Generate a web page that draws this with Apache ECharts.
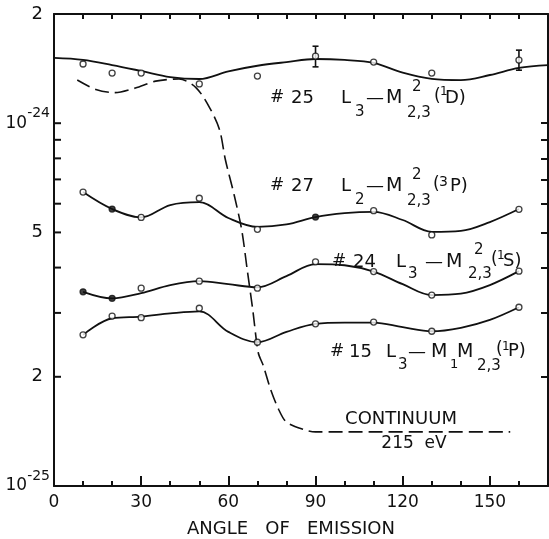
<!DOCTYPE html>
<html><head><meta charset="utf-8">
<script src="https://cdn.jsdelivr.net/npm/echarts@6/dist/echarts.min.js"></script>
<style>html,body{margin:0;padding:0;background:#fff}#c{width:549px;height:539px}</style>
</head><body><div id="c"></div>
<script>
const FONT = 'DejaVu Sans';
const INK = '#111';
const UNIT = 1e-25;

// measured points (values in units of 1e-25)
const pointAngles = [10, 20, 30, 50, 70, 90, 110, 130, 160];
const s25Points = [14.56, 13.75, 13.75, 12.83, 13.49, 15.3, 14.74, 13.75, 14.93];
const s27Points = [6.46, 5.80, 5.50, 6.21, 5.10, 5.51, 5.74, 4.92, 5.79];
const s24Points = [3.43, 3.29, 3.51, 3.67, 3.51, 4.15, 3.90, 3.36, 3.91];
const s15Points = [2.61, 2.94, 2.91, 3.09, 2.49, 2.80, 2.83, 2.67, 3.11];
const s27Filled = [20, 90];
const s24Filled = [10, 20];

// error bars on #25
const errAngles = [90, 160];
const errLow = [14.3, 14.0];
const errHigh = [16.3, 15.9];

// fitted curves
const s25CurveAngles = [0, 10, 20, 30, 40, 50, 60, 70, 80, 90, 100, 110, 120, 130, 140, 150, 160, 170];
const s25Curve = [15.13, 14.94, 14.46, 13.93, 13.40, 13.24, 13.9, 14.4, 14.74, 15.03, 14.94, 14.66, 13.78, 13.25, 13.15, 13.58, 14.2, 14.46];
const curveAngles = [10, 20, 30, 40, 50, 60, 70, 80, 90, 100, 110, 120, 130, 140, 150, 160];
const s27Curve = [6.46, 5.80, 5.50, 5.95, 6.06, 5.48, 5.18, 5.26, 5.51, 5.65, 5.70, 5.41, 5.02, 5.05, 5.34, 5.80];
const s24Curve = [3.43, 3.29, 3.40, 3.58, 3.67, 3.60, 3.53, 3.79, 4.09, 4.06, 3.90, 3.60, 3.36, 3.39, 3.58, 3.91];
const s15Curve = [2.61, 2.90, 2.93, 2.99, 3.03, 2.66, 2.49, 2.66, 2.80, 2.82, 2.82, 2.74, 2.67, 2.73, 2.87, 3.11];

// continuum (dashed)
const contAngles = [8, 14.4, 21, 28, 35, 43, 49, 54, 57, 59, 62, 64.6, 66.5, 68.4, 70.3, 72, 74.6, 77.4, 80, 86, 90, 157];
const contValues = [13.15, 12.39, 12.14, 12.5, 13.06, 13.24, 12.5, 10.87, 9.58, 7.92, 6.34, 5.08, 3.94, 3.06, 2.33, 2.15, 1.84, 1.62, 1.50, 1.43, 1.41, 1.41];

// axis ticks (y in units of 1e-25)
const xTickLabels = [0, 30, 60, 90, 120, 150];
const yTickValues = [1, 2, 3, 4, 5, 6, 7, 8, 9, 10];
const yLabelValues = [1, 2, 5, 10, 20];
const yMin = 1, yMax = 20;

const pair = (xs, ys) => xs.map((a, i) => [a, ys[i] * UNIT]);
const lg = m => -25 + Math.log10(m);   // exponent of m * 1e-25
const LOGY = 3; // index of the log axis carrying the data

function pointsData(ys, filled) {
  return pointAngles.map((a, i) => ({
    value: [a, ys[i] * UNIT],
    itemStyle: { color: filled.indexOf(a) >= 0 ? INK : '#fff', borderColor: INK, borderWidth: 1.3 }
  }));
}
function curve(name, xs, ys) {
  return { name, type: 'line', yAxisIndex: LOGY, smooth: 0.35, showSymbol: false, silent: true,
    data: pair(xs, ys), lineStyle: { color: INK, width: 1.8 }, z: 2 };
}
function pts(name, ys, filled) {
  return { name, type: 'scatter', yAxisIndex: LOGY, symbol: 'circle', symbolSize: 6, data: pointsData(ys, filled || []), z: 4 };
}

function yLabel(v) {
  const m = Math.round(Math.pow(10, v + 25) * 10) / 10;
  if (m === 1) return '{b|10}{s|-25}';
  if (m === 10) return '{b|10}{s|-24}';
  if (m === 2 || m === 5) return '{n|' + m + '}';
  if (m === 20) return '{n|2}';
  return '';
}

function T(x, y, text, size) {
  return { type: 'text', x, y, silent: true,
    style: { text, fill: INK, font: (size || 18) + 'px "' + FONT + '"', textVerticalAlign: 'middle', textAlign: 'left' } };
}

const graphics = [
  // #25
  T(270, 98, '#', 17), T(291, 98, '25', 18), T(341, 98, 'L', 18), T(355, 112, '3', 15),
  T(366, 98, '—', 18), T(386, 98, 'M', 19), T(412, 87, '2', 15), T(407, 113, '2,3', 15),
  T(434, 97, '(', 17), T(440, 92, '1', 12), T(445, 98, 'D)', 18),
  // #27
  T(270, 186, '#', 17), T(291, 186, '27', 18), T(341, 186, 'L', 18), T(355, 200, '2', 15),
  T(366, 186, '—', 18), T(386, 186, 'M', 19), T(412, 175, '2', 15), T(407, 201, '2,3', 15),
  T(433, 185, '(', 17), T(439, 182, '3', 14), T(450, 186, 'P)', 18),
  // #24
  T(332, 262, '#', 17), T(353, 262, '24', 18), T(396, 262, 'L', 18), T(408, 274, '3', 15),
  T(425, 262, '—', 18), T(446, 262, 'M', 19), T(474, 250, '2', 15), T(468, 274, '2,3', 15),
  T(491, 260, '(', 17), T(497, 256, '1', 12), T(503, 261, 'S)', 18),
  // #15
  T(330, 352, '#', 17), T(349, 352, '15', 18), T(386, 352, 'L', 18), T(398, 365, '3', 15),
  T(408, 352, '—', 18), T(431, 352, 'M', 19), T(450, 365, '1', 13), T(457, 352, 'M', 19),
  T(477, 366, '2,3', 15), T(496, 350, '(', 17), T(502, 347, '1', 12), T(508, 351, 'P)', 18),
  // continuum
  { type: 'text', x: 401, y: 419, silent: true, style: { text: 'CONTINUUM', fill: INK, font: '18px "' + FONT + '"', textAlign: 'center', textVerticalAlign: 'middle' } },
  { type: 'text', x: 414, y: 444, silent: true, style: { text: '215  eV', fill: INK, font: '17px "' + FONT + '"', textAlign: 'center', textVerticalAlign: 'middle' } }
];

// right-hand tick axis (ticks pointing into the plot)
const rightTickAxis = {
  type: 'value', position: 'right', min: lg(yMin), max: lg(yMax), offset: 0,
  axisLine: { show: true, onZero: false, lineStyle: { color: INK, width: 2 } },
  splitLine: { show: false },
  axisTick: { show: true, inside: true, length: 7, lineStyle: { color: INK, width: 2 },
    customValues: yTickValues.map(lg) },
  axisLabel: { show: false }
};
// left axis line (its inward ticks are drawn by the 'leftTicks' custom series)
const leftLineAxis = {
  type: 'value', position: 'left', min: lg(yMin), max: lg(yMax), offset: 0,
  axisLine: { show: true, onZero: false, lineStyle: { color: INK, width: 2 } },
  splitLine: { show: false }, axisTick: { show: false }, axisLabel: { show: false }
};
// label-only axis on the left
const labelAxis = {
  type: 'value', position: 'left', min: lg(yMin), max: lg(yMax), offset: 0,
  axisLine: { show: false, onZero: false }, axisTick: { show: false }, splitLine: { show: false },
  axisLabel: { show: true, margin: 4, color: INK, fontFamily: FONT, formatter: yLabel,
    customValues: yLabelValues.map(lg),
    rich: {
      b: { fontSize: 17, fontFamily: FONT, color: INK, lineHeight: 34, verticalAlign: 'middle' },
      s: { fontSize: 14, fontFamily: FONT, color: INK, lineHeight: 14, verticalAlign: 'top' },
      n: { fontSize: 18, fontFamily: FONT, color: INK, padding: [0, 7, 0, 0] }
    } }
};

const chart = echarts.init(document.getElementById('c'), null, { renderer: 'canvas' });
chart.setOption({
  animation: false,
  backgroundColor: '#fff',
  grid: { left: 54, right: 1, top: 14, bottom: 53, containLabel: false, outerBoundsMode: 'none' },
  xAxis: [
    { type: 'value', position: 'bottom', min: 0, max: 170, interval: 10,
      axisLine: { show: true, onZero: false, lineStyle: { color: INK, width: 2 } },
      axisTick: { show: true, inside: true, length: 5, lineStyle: { color: INK, width: 2 } },
      splitLine: { show: false },
      axisLabel: { color: INK, fontFamily: FONT, fontSize: 17, margin: 8,
        formatter: v => (xTickLabels.indexOf(v) >= 0 ? String(v) : '') },
      name: 'ANGLE   OF   EMISSION', nameLocation: 'middle', nameGap: 34,
      nameTextStyle: { color: INK, fontFamily: FONT, fontSize: 18, padding: [0, 20, 0, 0] } },
    { type: 'value', position: 'bottom', min: 0, max: 170, interval: 30,
      axisLine: { show: false, onZero: false }, splitLine: { show: false }, axisLabel: { show: false },
      axisTick: { show: true, inside: true, length: 10, lineStyle: { color: INK, width: 2 } } },
    { type: 'value', position: 'top', min: 0, max: 170, interval: 10,
      axisLine: { show: true, onZero: false, lineStyle: { color: INK, width: 2 } }, splitLine: { show: false }, axisLabel: { show: false },
      axisTick: { show: true, inside: true, length: 5, lineStyle: { color: INK, width: 2 } } }
  ],
  yAxis: [
    labelAxis,
    rightTickAxis,
    leftLineAxis,
    { type: 'log', logBase: 10, min: yMin * UNIT, max: yMax * UNIT, position: 'right', offset: 0,
      axisLine: { show: false, onZero: false }, axisTick: { show: false }, axisLabel: { show: false }, splitLine: { show: false } }
  ],
  graphic: graphics,
  series: [
    curve('c25', s25CurveAngles, s25Curve),
    curve('c27', curveAngles, s27Curve),
    curve('c24', curveAngles, s24Curve),
    curve('c15', curveAngles, s15Curve),
    { name: 'continuum', type: 'line', yAxisIndex: LOGY, smooth: 0.3, showSymbol: false, silent: true,
      data: pair(contAngles, contValues), lineStyle: { color: INK, width: 1.6, type: [14, 6] }, z: 1 },
    pts('p25', s25Points), pts('p27', s27Points, s27Filled), pts('p24', s24Points, s24Filled), pts('p15', s15Points),
    { name: 'err25', type: 'custom', yAxisIndex: LOGY, z: 3,
      data: errAngles.map((a, i) => [a, errLow[i] * UNIT, errHigh[i] * UNIT]),
      encode: { x: 0, y: [1, 2] },
      renderItem: function (params, api) {
        const x = api.value(0);
        const lo = api.coord([x, api.value(1)]);
        const hi = api.coord([x, api.value(2)]);
        const st = { stroke: INK, lineWidth: 1.6 };
        return { type: 'group', children: [
          { type: 'line', shape: { x1: lo[0], y1: lo[1], x2: hi[0], y2: hi[1] }, style: st },
          { type: 'line', shape: { x1: lo[0] - 3, y1: lo[1], x2: lo[0] + 3, y2: lo[1] }, style: st },
          { type: 'line', shape: { x1: hi[0] - 3, y1: hi[1], x2: hi[0] + 3, y2: hi[1] }, style: st }
        ] };
      } },
    { name: 'leftTicks', type: 'custom', yAxisIndex: LOGY, z: 5, clip: false, silent: true,
      data: yTickValues.map(v => [0, v * UNIT]),
      encode: { x: 0, y: 1 },
      renderItem: function (params, api) {
        const p = api.coord([api.value(0), api.value(1)]);
        return { type: 'line', shape: { x1: p[0], y1: p[1], x2: p[0] + 7, y2: p[1] },
          style: { stroke: INK, lineWidth: 2 } };
      } }
  ]
});
</script></body></html>
